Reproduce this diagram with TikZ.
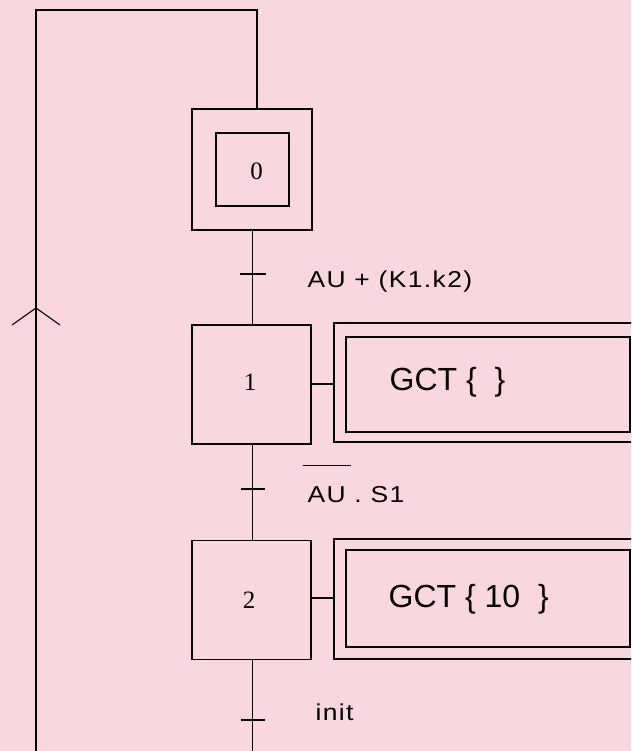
\documentclass[tikz,border=0pt]{standalone}
\usepackage{fontspec}
\setmainfont{Liberation Serif}
\newfontfamily\labfont[FakeStretch=1.15,LetterSpace=6]{Liberation Sans}
\newfontfamily\actfont{Liberation Sans}
\definecolor{bgpink}{RGB}{249,215,224}
\begin{document}
\begin{tikzpicture}[x=1pt,y=-1pt,
  line width=1.3pt,
  stepbox/.style={draw,rectangle,minimum width=119pt,minimum height=119pt,inner sep=0pt},
  actbox/.style={draw,rectangle,inner sep=0pt},
  numtxt/.style={font=\fontsize{25}{25}\selectfont,inner sep=0pt,anchor=base},
  labtxt/.style={font=\labfont\fontsize{23}{23}\selectfont,inner sep=0pt,anchor=base west},
  acttxt/.style={font=\actfont\fontsize{32}{32}\selectfont,inner sep=0pt,anchor=base west}]
\fill[bgpink] (0,0) rectangle (631,751);
\useasboundingbox (0,0) rectangle (631,751);
\clip (0,0) rectangle (631,751);

% step 0 (initial)
\node[stepbox,minimum width=120pt,minimum height=121pt] (s0) at (252,169.5) {};
\node[draw,rectangle,minimum width=73pt,minimum height=73pt,inner sep=0pt] (s0in) at (252.5,169.5) {};
\node[numtxt] (n0) at (256.5,180) {0};

% step 1
\node[stepbox] (s1) at (251.5,384.5) {};
\node[numtxt] (n1) at (250,390) {1};

% step 2
\node[stepbox] (s2) at (251.5,600) {};
\node[numtxt] (n2) at (249,608) {2};

% action 1
\node[actbox,minimum width=330pt,minimum height=119pt] (a1o) at (499,382.5) {};
\node[actbox,minimum width=284pt,minimum height=95pt] (a1i) at (488,384.5) {};
\node[acttxt] (a1t) at (389,390) {GCT \{\ \ \}};
\coordinate (l1) at (311,384);
\draw (l1) -- (l1 -| a1o.west);

% action 2
\node[actbox,minimum width=330pt,minimum height=120pt] (a2o) at (499,599) {};
\node[actbox,minimum width=284pt,minimum height=97pt] (a2i) at (488,598.5) {};
\node[acttxt] (a2t) at (388,607) {GCT \{ 10\ \ \}};
\coordinate (l2) at (311,598);
\draw (l2) -- (l2 -| a2o.west);

% transitions
\coordinate (t1) at (252.5,274);
\coordinate (t2) at (252.5,489);
\coordinate (t3) at (252.5,720);
\coordinate (bot) at (252.5,751);
\draw (s0.south -| t1) -- (s1.north -| t1);
\draw (s1.south -| t2) -- (s2.north -| t2);
\draw (s2.south -| t3) -- (bot);
\draw ([xshift=-13pt]t1) -- ([xshift=13pt]t1);
\draw ([xshift=-12pt]t2) -- ([xshift=12pt]t2);
\draw ([xshift=-12pt]t3) -- ([xshift=12pt]t3);
\node[labtxt] (c1) at (307,287) {AU + (K1.k2)};
\node[labtxt] (c2) at (307,502) {\makebox[0pt][l]{\hspace{-5pt}\rule[36pt]{48pt}{1.3pt}}AU . S1};
\node[labtxt] (c3) at (315,720) {init};

% loop back
\coordinate (lb) at (36,751);
\coordinate (lt) at (36,10);
\coordinate (rt) at (257,10);
\coordinate (arr) at (36,308);
\draw (lb) -- (lt) -- (rt) -- (rt |- s0.north);
\draw[line width=1.1pt] ([shift={(-24,17)}]arr) -- (arr) -- ([shift={(24,17)}]arr);
\end{tikzpicture}
\end{document}
